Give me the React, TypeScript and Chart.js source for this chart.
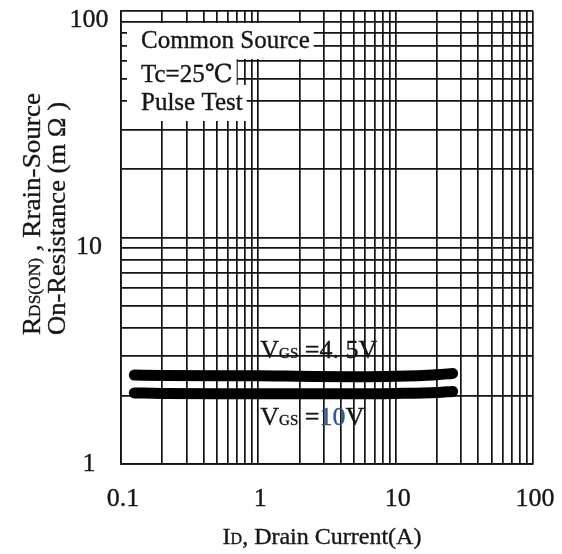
import React, { useEffect, useRef } from 'react';
import { Chart, registerables } from 'chart.js';

Chart.register(...registerables);

// ---- data ----
const drainCurrent = [0.125, 0.2, 0.5, 1, 2, 5, 10, 20, 26];
const rdsVgs45 = [2.47, 2.46, 2.45, 2.45, 2.44, 2.43, 2.44, 2.48, 2.51];
const rdsVgs10 = [2.06, 2.05, 2.04, 2.04, 2.04, 2.04, 2.05, 2.07, 2.09];

const xTickValues = [0.1, 1, 10, 100];
const xTickLabels = ['0.1', '1', '10', '100'];
const yTickValues = [1, 10, 100];
const yTickLabels = ['1', '10', '100'];
const gridMultipliers = [1, 2, 3, 4, 5, 6, 7, 8, 9];
const legendLines = ['Common Source', 'Tc=25℃', 'Pulse Test'];

const SERIF = '"Liberation Serif", "Times New Roman", "DejaVu Serif", serif';
const INK = '#161616';

type Run = { t: string; size: number; color?: string };

function runsWidth(ctx: CanvasRenderingContext2D, runs: Run[]) {
  let w = 0;
  for (const r of runs) {
    ctx.font = `${r.size}px ${SERIF}`;
    w += ctx.measureText(r.t).width;
  }
  return w;
}

function drawRuns(ctx: CanvasRenderingContext2D, runs: Run[], x: number, y: number) {
  let cx = x;
  for (const r of runs) {
    ctx.font = `${r.size}px ${SERIF}`;
    ctx.fillStyle = r.color || INK;
    ctx.strokeStyle = r.color || INK;
    ctx.lineWidth = 0.35;
    ctx.fillText(r.t, cx, y);
    ctx.strokeText(r.t, cx, y);
    cx += ctx.measureText(r.t).width;
  }
  return cx;
}

function gridValues(decades: number[], last: number) {
  const out: { value: number }[] = [];
  for (const d of decades) for (const m of gridMultipliers) out.push({ value: d * m });
  out.push({ value: last });
  return out;
}

const textPlugin = {
  id: 'datasheetText',
  beforeDatasetsDraw(chart: any) {
    const ctx: CanvasRenderingContext2D = chart.ctx;
    const area = chart.chartArea;
    ctx.save();
    ctx.font = `25px ${SERIF}`;
    const textX = area.left + 20;
    const baselines = [area.top + 37, area.top + 71, area.top + 99];
    ctx.fillStyle = '#ffffff';
    legendLines.forEach((s, i) => {
      const w = ctx.measureText(s).width;
      ctx.fillRect(area.left + 6, baselines[i] - 25, textX - area.left - 6 + w + 4, 36);
    });
    ctx.restore();
  },
  afterDraw(chart: any) {
    const ctx: CanvasRenderingContext2D = chart.ctx;
    const area = chart.chartArea;
    const xs = chart.scales.x;
    const ys = chart.scales.y;
    ctx.save();
    ctx.textBaseline = 'alphabetic';

    // legend text
    ctx.textAlign = 'left';
    const textX = area.left + 20;
    const baselines = [area.top + 37, area.top + 71, area.top + 99];
    legendLines.forEach((s, i) => drawRuns(ctx, [{ t: s, size: 25 }], textX, baselines[i]));

    // x tick labels
    xTickValues.forEach((v, i) => {
      const run = [{ t: xTickLabels[i], size: 26 }];
      const w = runsWidth(ctx, run);
      drawRuns(ctx, run, xs.getPixelForValue(v) + 2 - w / 2, area.bottom + 42);
    });
    // y tick labels
    yTickValues.forEach((v, i) => {
      const cy = Math.min(ys.getPixelForValue(v) + 7, area.bottom - 2);
      const run = [{ t: yTickLabels[i], size: 26 }];
      const w = runsWidth(ctx, run);
      drawRuns(ctx, run, area.left - 32 - w / 2, cy + 9);
    });

    // curve labels
    const lx = xs.getPixelForValue(1) + 2;
    drawRuns(ctx, [
      { t: 'V', size: 26 },
      { t: 'GS', size: 15 },
      { t: ' =4. 5V', size: 26 },
    ], lx, 358);
    drawRuns(ctx, [
      { t: 'V', size: 26 },
      { t: 'GS', size: 15 },
      { t: ' =', size: 26 },
      { t: '10', size: 26, color: '#2f5a8a' },
      { t: 'V', size: 26 },
    ], lx, 425);

    // x title
    const xt: Run[] = [
      { t: 'I', size: 24 },
      { t: 'D', size: 16 },
      { t: ', Drain Current(A)', size: 24 },
    ];
    const xw = runsWidth(ctx, xt);
    drawRuns(ctx, xt, 322 - xw / 2, 544);

    // y title (two rotated lines)
    const line1: Run[] = [
      { t: 'R', size: 25 },
      { t: 'DS(ON)', size: 16 },
      { t: ' , Rrain-Source', size: 25 },
    ];
    const line2: Run[] = [{ t: 'On-Resistance (m Ω )', size: 25 }];
    const drawRot = (runs: Run[], cx: number, startY: number, target: number) => {
      const w = runsWidth(ctx, runs);
      ctx.save();
      ctx.translate(cx + 8.5, startY);
      ctx.rotate(-Math.PI / 2);
      ctx.scale(target / w, 1);
      drawRuns(ctx, runs, 0, 0);
      ctx.restore();
    };
    drawRot(line1, 31, 335, 242);
    drawRot(line2, 56, 335, 233);

    ctx.restore();
  },
};

export default function App() {
  const canvasRef = useRef<HTMLCanvasElement | null>(null);

  useEffect(() => {
    const canvas = canvasRef.current;
    if (!canvas) return;
    const gridOpts = {
      color: '#141414',
      lineWidth: 1.7,
      drawTicks: false,
    };
    const chart = new Chart(canvas, {
      type: 'line',
      data: {
        datasets: [
          {
            label: 'VGS=4.5V',
            data: drainCurrent.map((x, i) => ({ x, y: rdsVgs45[i] })),
            borderColor: '#000',
            borderWidth: 11,
            borderCapStyle: 'round',
            borderJoinStyle: 'round',
            pointRadius: 0,
            tension: 0.4,
            cubicInterpolationMode: 'monotone',
            fill: false,
          },
          {
            label: 'VGS=10V',
            data: drainCurrent.map((x, i) => ({ x, y: rdsVgs10[i] })),
            borderColor: '#000',
            borderWidth: 11,
            borderCapStyle: 'round',
            borderJoinStyle: 'round',
            pointRadius: 0,
            tension: 0.4,
            cubicInterpolationMode: 'monotone',
            fill: false,
          },
        ],
      },
      options: {
        responsive: false,
        animation: false,
        devicePixelRatio: 1,
        layout: { padding: { left: 121, right: 29, top: 11, bottom: 90 } },
        plugins: {
          legend: { display: false },
          tooltip: { enabled: false },
          title: { display: false },
        },
        scales: {
          x: {
            type: 'logarithmic',
            min: 0.1,
            max: 100,
            afterBuildTicks: (scale: any) => {
              scale.ticks = gridValues([0.1, 1, 10], 100);
            },
            ticks: { display: false },
            grid: gridOpts,
            border: { display: true, color: '#141414', width: 1.7 },
          },
          y: {
            type: 'logarithmic',
            min: 1,
            max: 100,
            afterBuildTicks: (scale: any) => {
              scale.ticks = gridValues([1, 10], 100);
            },
            ticks: { display: false },
            grid: gridOpts,
            border: { display: true, color: '#141414', width: 1.7 },
          },
        },
      } as any,
      plugins: [textPlugin],
    });
    return () => chart.destroy();
  }, []);

  return (
    <div style={{ position: 'absolute', left: 0, top: 0, width: 562, height: 554, background: '#fff' }}>
      <canvas ref={canvasRef} width={562} height={554} style={{ display: 'block' }} />
    </div>
  );
}
